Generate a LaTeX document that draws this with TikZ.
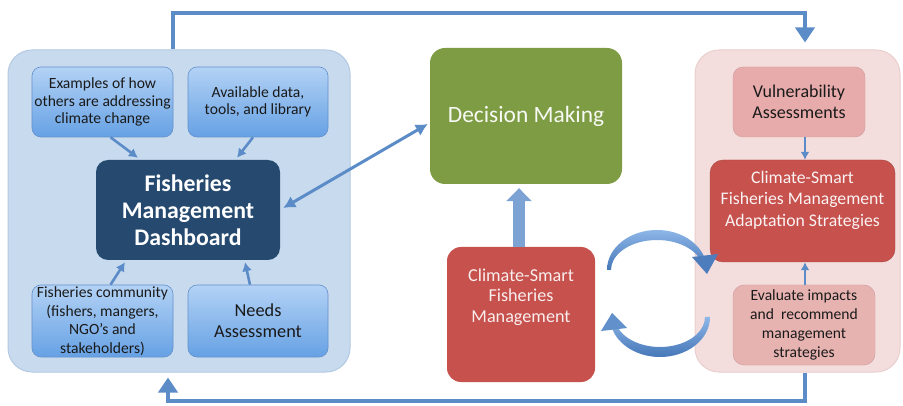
\documentclass[tikz,border=0pt]{standalone}
\usepackage{fontspec}
\setmainfont{Carlito}
\usetikzlibrary{arrows.meta,calc}
\definecolor{lcfill}{HTML}{C8DAEE}
\definecolor{lcdraw}{HTML}{B4C9E2}
\definecolor{btop}{HTML}{B3D2F5}
\definecolor{bbot}{HTML}{66A1E4}
\definecolor{bdraw}{HTML}{6491CB}
\definecolor{navy}{HTML}{25496F}
\definecolor{olive}{HTML}{7E9C44}
\definecolor{redbox}{HTML}{C6514D}
\definecolor{rcfill}{HTML}{F3DEDD}
\definecolor{rcdraw}{HTML}{E9CFCE}
\definecolor{pinkbox}{HTML}{E6ABAA}
\definecolor{pinkbox2}{HTML}{E7B3B1}
\definecolor{conn}{HTML}{5B8CC8}
\definecolor{arclight}{HTML}{8DB6E8}
\definecolor{arcdark}{HTML}{4677B8}
\definecolor{txt}{HTML}{1A1A1A}
\tikzset{
  container/.style={rectangle, rounded corners=24pt, inner sep=0pt},
  bluebox/.style={rectangle, rounded corners=9pt, top color=btop, bottom color=bbot, draw=bdraw, line width=0.6pt, align=center, text=txt, inner sep=1pt},
  smalltxt/.style={font=\fontsize{15.6}{17.5}\selectfont},
  conarrow/.style={draw=conn, line width=2.6pt, -{Latex[length=9pt,width=10pt]}},
  bigline/.style={draw=conn, line width=4pt, -{Triangle[length=15pt,width=19pt]}},
}
\begin{document}
\begin{tikzpicture}[x=1pt,y=-1pt]
\useasboundingbox (0,0) rectangle (903,406);
\fill[white] (0,0) rectangle (903,406);
% containers
\node[container, fill=lcfill, draw=lcdraw, line width=1pt, minimum width=342pt, minimum height=322pt] (lc) at (179,211) {};
\node[container, fill=rcfill, draw=rcdraw, line width=1pt, minimum width=205pt, minimum height=322pt] (rc) at (797.5,211) {};
% left boxes
\node[bluebox, smalltxt, minimum width=141pt, minimum height=70pt] (ex) at (102.5,102) {Examples of how\\others are addressing\\climate change};
\node[bluebox, smalltxt, minimum width=140pt, minimum height=70pt] (av) at (258,102) {Available data,\\tools, and library};
\node[rectangle, rounded corners=12pt, fill=navy, text=white, align=center, minimum width=184pt, minimum height=100pt, font=\fontsize{23.8}{27}\selectfont\bfseries] (dash) at (188,210) {Fisheries\\Management\\Dashboard};
\node[bluebox, font=\fontsize{15.6}{18.5}\selectfont, minimum width=141pt, minimum height=72pt] (fc) at (102.5,321) {Fisheries community\\(fishers, mangers,\\NGO’s and\\stakeholders)};
\node[bluebox, font=\fontsize{18.3}{21}\selectfont, minimum width=140pt, minimum height=72pt] (na) at (258,321) {Needs\\Assessment};
% center
\node[rectangle, rounded corners=15pt, fill=olive, text=white!94!olive, minimum width=192pt, minimum height=136pt, font=\fontsize{23.4}{27}\selectfont] (dm) at (526,116) {Decision Making};
\node[rectangle, rounded corners=14pt, fill=redbox, minimum width=148pt, minimum height=135pt] (csfm) at (521,314.5) {};
\node[text=white!90!redbox, align=center, font=\fontsize{18.2}{20.5}\selectfont] at (521,297) {Climate-Smart\\Fisheries\\Management};
% right boxes
\node[rectangle, rounded corners=10pt, fill=pinkbox, draw=pinkbox!90!black, line width=0.4pt, text=txt, align=center, minimum width=132pt, minimum height=70pt, font=\fontsize{18}{20.5}\selectfont] (va) at (799,102) {Vulnerability\\Assessments};
\node[rectangle, rounded corners=13pt, fill=redbox, draw=redbox!85!black, line width=0.4pt, minimum width=185pt, minimum height=102pt] (cs) at (802.5,211) {};
\node[text=white!93!redbox, align=center, font=\fontsize{17.7}{21.5}\selectfont] at (802.5,200) {Climate-Smart\\Fisheries Management\\Adaptation Strategies};
\node[rectangle, rounded corners=11pt, fill=pinkbox2, draw=pinkbox2!88!black, line width=0.4pt, text=txt, align=center, minimum width=142pt, minimum height=80pt, font=\fontsize{15.6}{18.8}\selectfont] (ev) at (804,325) {Evaluate impacts\\and~~recommend\\management\\strategies};
% thin arrows
\draw[conarrow] ([xshift=8pt]ex.south) -- ([xshift=-50pt,yshift=2pt]dash.north);
\draw[conarrow] ([xshift=-5pt]av.south) -- ([xshift=49pt,yshift=2pt]dash.north);
\draw[conarrow] ([xshift=8pt]fc.north) -- ([xshift=-63pt,yshift=-2pt]dash.south);
\draw[conarrow] ([xshift=-8pt]na.north) -- ([xshift=57pt,yshift=-2pt]dash.south);
\draw[conarrow, -{Latex[length=8pt,width=9pt]}, line width=2.2pt] ([xshift=6pt]va.south) -- ([xshift=6pt]va.south |- cs.north);
\draw[conarrow, -{Latex[length=8pt,width=9pt]}, line width=2.2pt] ([xshift=1pt]ev.north) -- ([xshift=1pt]ev.north |- cs.south);
% double arrow
\draw[draw=conn, line width=3pt, {Latex[length=12pt,width=13pt]}-{Latex[length=12pt,width=13pt]}] ([xshift=3pt,yshift=2pt]dash.east) -- ([xshift=-2pt,yshift=-8pt]dm.west);
% thick vertical arrow
\draw[draw=conn!80!white, line width=12pt, -{Triangle[length=13pt,width=25pt]}, shorten >=4pt] ([xshift=-2pt]csfm.north) -- ([xshift=-2pt]csfm.north |- dm.south);
% feedback lines
\draw[bigline] ([xshift=-6pt]lc.north) -- ++(0,-36) -| ([xshift=7.5pt,yshift=7pt]rc.north);
\draw[bigline] ([xshift=7.5pt]rc.south) -- ++(0,28) -| ([xshift=-11pt,yshift=-5pt]lc.south);
% circular arrows (tapered)
\coordinate (uc) at (657,270);
\coordinate (lcc) at (660,317);
\shade[top color=arclight, bottom color=arcdark]
  ($(uc)+(180:50pt and 40pt)$) arc[start angle=180, end angle=12, x radius=50pt, y radius=40pt]
  -- ($(uc)+(12:46pt and 30pt)$) arc[start angle=12, end angle=180, x radius=46pt, y radius=30pt] -- cycle;
\fill[arcdark!90!arclight] (692,257) -- (718,254) -- (707,274) -- cycle;
\shade[top color=arclight, bottom color=arcdark]
  ($(lcc)+(0:50pt and 40pt)$) arc[start angle=0, end angle=-163, x radius=50pt, y radius=40pt]
  -- ($(lcc)+(-163:45pt and 30pt)$) arc[start angle=-163, end angle=0, x radius=45pt, y radius=30pt] -- cycle;
\fill[arcdark!60!arclight] (612,313) -- (627,328) -- (601,331) -- cycle;
\end{tikzpicture}
\end{document}
